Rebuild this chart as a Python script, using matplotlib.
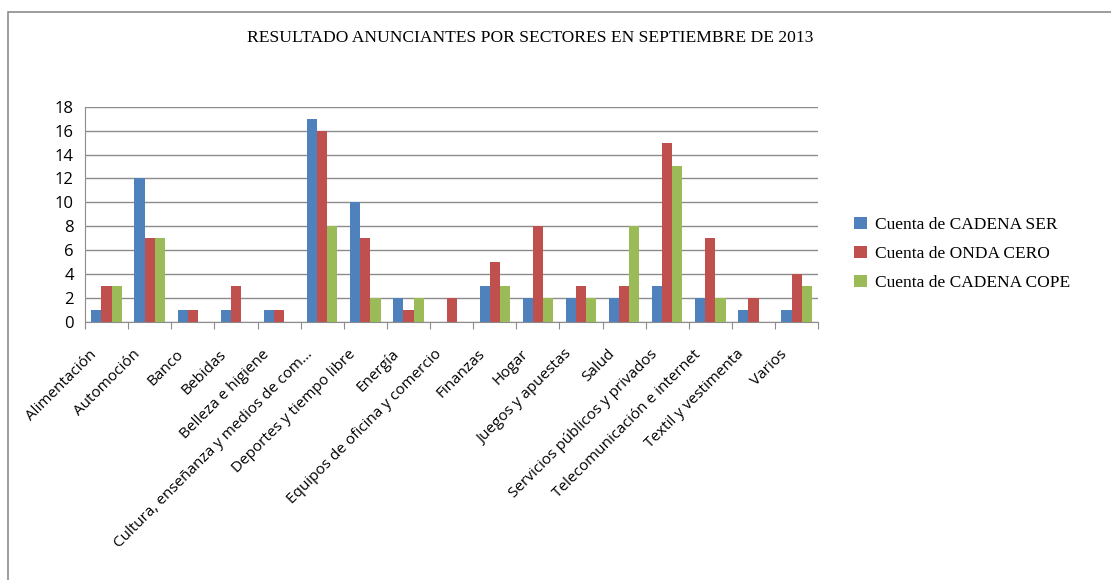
import matplotlib.pyplot as plt
import matplotlib.transforms as mtransforms
import numpy as np

categories = ["Alimentación", "Automoción", "Banco", "Bebidas", "Belleza e higiene",
              "Cultura, enseñanza y medios de com...", "Deportes y tiempo libre", "Energía",
              "Equipos de oficina y comercio", "Finanzas", "Hogar", "Juegos y apuestas",
              "Salud", "Servicios públicos y privados", "Telecomunicación e internet",
              "Textil y vestimenta", "Varios"]
cadena_ser = [1, 12, 1, 1, 1, 17, 10, 2, 0, 3, 2, 2, 2, 3, 2, 1, 1]
onda_cero = [3, 7, 1, 3, 1, 16, 7, 1, 2, 5, 8, 3, 3, 15, 7, 2, 4]
cadena_cope = [3, 7, 0, 0, 0, 8, 2, 2, 0, 3, 2, 2, 8, 13, 2, 0, 3]
series_names = ["Cuenta de CADENA SER", "Cuenta de ONDA CERO", "Cuenta de CADENA COPE"]
colors = ["#4F81BD", "#C0504D", "#9BBB59"]

fig = plt.figure(figsize=(11.11, 5.8), dpi=100)
# outer chart border (runs off the right and bottom edges)
fig.patches.append(plt.Rectangle((0.0072, -0.1), 1.1, 1.079, transform=fig.transFigure,
                                 fill=False, edgecolor="#8c8c8c", linewidth=1.2))
ax = fig.add_axes([0.0765, 0.445, 0.66, 0.371])

x = np.arange(len(categories))
w = 0.235
for i, (vals, name, c) in enumerate(zip([cadena_ser, onda_cero, cadena_cope], series_names, colors)):
    ax.bar(x + (i - 1) * w, vals, width=w, color=c, label=name, zorder=3)

ax.set_xlim(-0.5, len(categories) - 0.5)
ax.set_ylim(0, 18)
ax.set_yticks(range(0, 19, 2))
ax.grid(axis="y", color="#8c8c8c", linewidth=1, zorder=0)
for s in ["top", "right"]:
    ax.spines[s].set_visible(False)
ax.spines["left"].set_color("#8c8c8c")
ax.spines["bottom"].set_color("#8c8c8c")

ax.set_xticks(np.arange(-0.5, len(categories), 1), minor=False)
ax.set_xticklabels([])
ax.set_xticks(x, minor=True)
ax.set_xticklabels(categories, minor=True, rotation=45, ha="right", rotation_mode="anchor",
                   fontsize=11, family="Open Sans")
ax.tick_params(axis="x", which="major", length=5, color="#8c8c8c", direction="out")
ax.tick_params(axis="x", which="minor", length=0, pad=10)
ax.tick_params(axis="y", length=0, labelsize=12, pad=8)
for lab in ax.get_yticklabels():
    lab.set_family("Open Sans")

# nudge the rotated labels down-left like Excel does
shift = mtransforms.ScaledTranslation(-17 / 100, -11 / 100, fig.dpi_scale_trans)
for lab in ax.get_xticklabels(minor=True):
    lab.set_transform(lab.get_transform() + shift)

fig.text(0.477, 0.934, "RESULTADO ANUNCIANTES POR SECTORES EN SEPTIEMBRE DE 2013",
         ha="center", va="center", fontsize=12.6, family="Liberation Serif")

leg = fig.legend(loc="center left", bbox_to_anchor=(0.755, 0.562), frameon=False,
                 prop={"family": "Liberation Serif", "size": 12.5}, handlelength=0.7,
                 handleheight=0.7, handletextpad=0.5, labelspacing=0.75)

fig.savefig("out.png", dpi=100)
